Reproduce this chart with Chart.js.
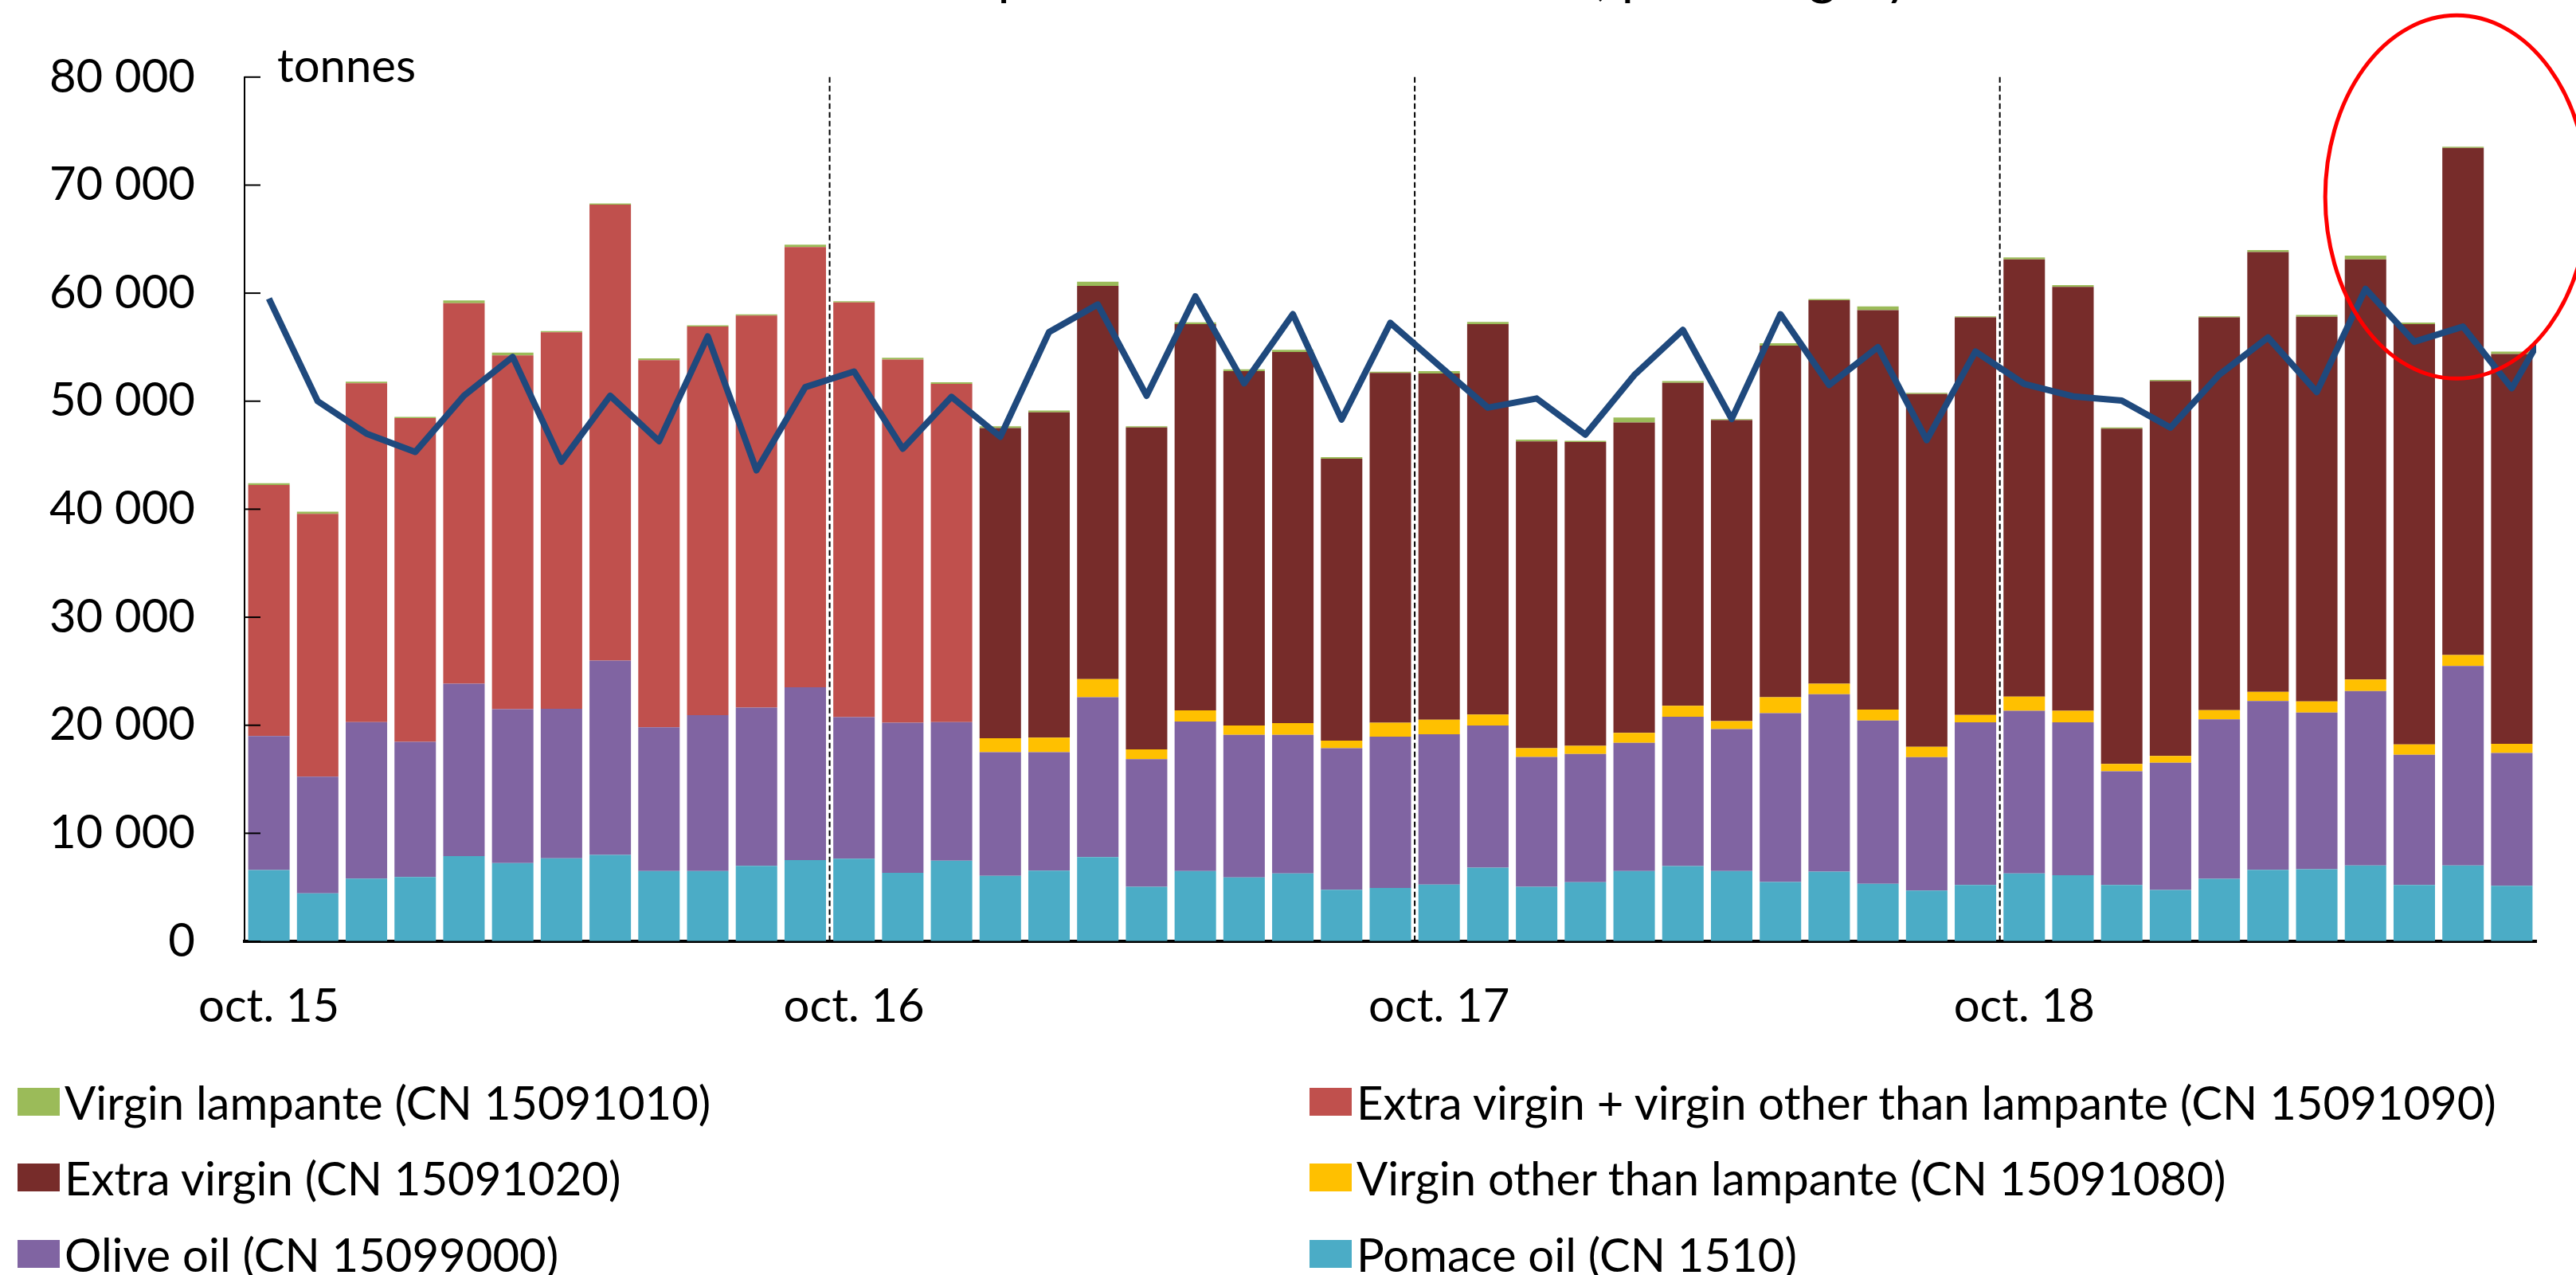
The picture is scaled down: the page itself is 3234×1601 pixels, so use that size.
<!DOCTYPE html>
<html>
<head>
<meta charset="utf-8">
<script src="https://cdn.jsdelivr.net/npm/chart.js@4.4.1/dist/chart.umd.min.js"></script>
<style>
  html, body { margin: 0; padding: 0; background: #fff; }
  body { width: 3234px; height: 1601px; position: relative; overflow: hidden; font-family: Lato, sans-serif; }
  #box { position: absolute; left: 0; top: 0; width: 3234px; height: 1320px; }
  .item { position: absolute; display: flex; align-items: center; height: 70px; font-size: 58px; color: #000; white-space: nowrap; }
  .key { display: inline-block; width: 53px; height: 35px; margin-right: 6px; }
</style>
</head>
<body>
<div id="box"><canvas id="oilChart"></canvas></div>
<div id="legend"></div>
<script>
// months (only october is labelled on the axis)
const categories = [
  'oct. 15', 'nov. 15', 'déc. 15', 'janv. 16', 'févr. 16', 'mars 16', 'avr. 16', 'mai 16', 'juin 16', 'juil. 16', 'août 16', 'sept. 16',
  'oct. 16', 'nov. 16', 'déc. 16', 'janv. 17', 'févr. 17', 'mars 17', 'avr. 17', 'mai 17', 'juin 17', 'juil. 17', 'août 17', 'sept. 17',
  'oct. 17', 'nov. 17', 'déc. 17', 'janv. 18', 'févr. 18', 'mars 18', 'avr. 18', 'mai 18', 'juin 18', 'juil. 18', 'août 18', 'sept. 18',
  'oct. 18', 'nov. 18', 'déc. 18', 'janv. 19', 'févr. 19', 'mars 19', 'avr. 19', 'mai 19', 'juin 19', 'juil. 19', 'août 19', 'sept. 19'
];
const lastShown = 46; // août 19, the line runs on past the edge

// tonnes per category
const pomace = [6600, 4450, 5800, 5960, 7890, 7250, 7680, 8000, 6500, 6500, 6980, 7520,
  7650, 6340, 7460, 6070, 6550, 7790, 5050, 6500, 5910, 6280, 4780, 4940,
  5260, 6820, 5050, 5480, 6500, 6960, 6510, 5490, 6450, 5320, 4700, 5210,
  6280, 6110, 5210, 4760, 5780, 6620, 6680, 7020, 5210, 7020, 5150];
const oliveOil = [12400, 10800, 14500, 12510, 15950, 14230, 13850, 17990, 13310, 14440, 14660, 16000,
  13100, 13900, 12840, 11430, 10950, 14810, 11810, 13850, 13200, 12830, 13100, 14010,
  13910, 13150, 12020, 11860, 11880, 13820, 13140, 15630, 16420, 15120, 12340, 15060,
  15070, 14160, 10530, 11770, 14770, 15630, 14500, 16140, 12060, 18460, 12290];
const virginOther = [null, null, null, null, null, null, null, null, null, null, null, null,
  null, null, null, 1290, 1350, 1670, 910, 1020, 860, 1080, 700, 1290,
  1340, 1020, 810, 750, 920, 1020, 730, 1470, 970, 1020, 970, 680,
  1300, 1080, 680, 630, 850, 850, 1020, 1070, 960, 1020, 850];
const extraVirgin = [null, null, null, null, null, null, null, null, null, null, null, null,
  null, null, null, 28730, 30120, 36400, 29800, 35760, 32810, 34360, 26090, 32380,
  32050, 36140, 28400, 28140, 28730, 29890, 27860, 32560, 35500, 36970, 32660, 36800,
  40480, 39230, 31030, 34700, 36350, 40710, 35610, 38900, 38900, 46940, 36070];
const extraPlusVirgin = [23250, 24320, 31350, 29960, 35220, 32750, 34840, 42200, 33990, 35970, 36290, 40750,
  38390, 33610, 31300];
const lampante = [150, 200, 160, 110, 270, 270, 110, 110, 160, 110, 110, 210,
  110, 160, 160, 160, 160, 380, 110, 160, 160, 210, 160, 100,
  220, 210, 160, 100, 460, 170, 110, 220, 110, 340, 110, 110,
  170, 170, 110, 110, 110, 170, 170, 340, 150, 110, 220];
const average = [59500, 50000, 47000, 45300, 50500, 54100, 44400, 50500, 46300, 56000, 43600, 51300,
  52750, 45600, 50400, 46700, 56400, 58950, 50500, 59700, 51650, 58050, 48300, 57250,
  53300, 49400, 50250, 46900, 52400, 56600, 48350, 58050, 51500, 55000, 46400, 54600,
  51600, 50450, 50050, 47550, 52450, 55900, 50850, 60400, 55500, 56900, 51200, 59000];

const yTicks = [0, 10000, 20000, 30000, 40000, 50000, 60000, 70000, 80000];

const FONT = 'Lato, sans-serif';
const fmt = v => String(v).replace(/\B(?=(\d{3})+(?!\d))/g, ' ');

const series = [
  { label: 'Pomace oil (CN 1510)', data: pomace, color: '#4BACC6' },
  { label: 'Olive oil (CN 15099000)', data: oliveOil, color: '#8064A2' },
  { label: 'Virgin other than lampante (CN 15091080)', data: virginOther, color: '#FFC000' },
  { label: 'Extra virgin (CN 15091020)', data: extraVirgin, color: '#772C2A' },
  { label: 'Extra virgin + virgin other than lampante (CN 15091090)', data: extraPlusVirgin, color: '#C0504D' },
  { label: 'Virgin lampante (CN 15091010)', data: lampante, color: '#9BBB59' }
];

const barSets = series.map(s => ({
  type: 'bar',
  label: s.label,
  data: s.data,
  xAxisID: 'x',
  yAxisID: 'y',
  backgroundColor: s.color,
  borderWidth: 0,
  grouped: false,
  categoryPercentage: 1,
  barPercentage: 0.85,
  order: 1
}));

// extra drawing: inward ticks, dashed year lines, unit, cut title, red ellipse
const extras = {
  id: 'extras',
  beforeDatasetsDraw(chart) {
    const { ctx, scales: { x, y } } = chart;
    ctx.save();
    ctx.strokeStyle = '#000';
    ctx.lineWidth = 2;
    ctx.setLineDash([7, 4]);
    categories.forEach((c, i) => {
      if (i > 0 && i <= lastShown && c.startsWith('oct')) {
        const px = (x.getPixelForValue(i - 1) + x.getPixelForValue(i)) / 2;
        ctx.beginPath();
        ctx.moveTo(px, y.getPixelForValue(80000));
        ctx.lineTo(px, y.getPixelForValue(0));
        ctx.stroke();
      }
    });
    ctx.restore();
  },
  afterDraw(chart) {
    const { ctx, scales: { x, y }, chartArea } = chart;
    ctx.save();
    ctx.strokeStyle = '#000';
    ctx.lineWidth = 2;
    yTicks.forEach(v => {
      const py = y.getPixelForValue(v);
      ctx.beginPath();
      ctx.moveTo(chartArea.left, py);
      ctx.lineTo(chartArea.left + 20, py);
      ctx.stroke();
    });
    ctx.fillStyle = '#000';
    ctx.font = '58px ' + FONT;
    ctx.textBaseline = 'alphabetic';
    ctx.fillText('tonnes', chartArea.left + 41, 103);
    // title sits above the picture, only its descenders show
    ctx.font = '66px ' + FONT;
    ctx.textAlign = 'right';
    ctx.fillText('Extra-EU imports of olive oil in tonnes, per category', 2400, -7);
    ctx.strokeStyle = '#FF0000';
    ctx.lineWidth = 5;
    ctx.beginPath();
    ctx.ellipse(x.getPixelForValue(45) - 8, y.getPixelForValue(68900), 165, 228, 0, 0, Math.PI * 2);
    ctx.stroke();
    ctx.restore();
  }
};

const ctx = document.getElementById('oilChart').getContext('2d');
const oilChart = new Chart(ctx, {
  data: {
    labels: categories,
    datasets: [
      ...barSets,
      {
        type: 'line',
        label: 'Total',
        data: average.map((v, i) => ({ x: i, y: v })),
        xAxisID: 'x2',
        yAxisID: 'y',
        stack: 'line',
        borderColor: '#1F497D',
        borderWidth: 8,
        borderJoinStyle: 'round',
        pointRadius: 0,
        tension: 0,
        fill: false,
        order: 0
      }
    ]
  },
  options: {
    responsive: true,
    maintainAspectRatio: false,
    animation: false,
    layout: { padding: { left: 0, top: 90, right: 50, bottom: 0 } },
    plugins: {
      legend: { display: false },
      tooltip: { enabled: false }
    },
    scales: {
      x: {
        type: 'category',
        stacked: true,
        offset: true,
        max: categories[lastShown],
        z: 1,
        grid: { display: true, drawOnChartArea: false, drawTicks: false },
        border: { display: true, color: '#000', width: 4 },
        ticks: {
          autoSkip: false,
          maxRotation: 0,
          padding: 47,
          color: '#000',
          font: { family: FONT, size: 58 },
          callback: (v) => categories[v].startsWith('oct') ? categories[v] : ''
        },
        afterFit: s => { s.height = 138; }
      },
      x2: {
        type: 'linear',
        display: false,
        min: -0.5,
        max: lastShown + 0.5
      },
      y: {
        stacked: true,
        min: 0,
        max: 80000,
        grid: { display: true, drawOnChartArea: false, drawTicks: false },
        border: { display: true, color: '#000', width: 2 },
        ticks: {
          stepSize: 10000,
          padding: 62,
          color: '#000',
          font: { family: FONT, size: 58 },
          callback: v => fmt(v)
        },
        afterFit: s => { s.width = 307; }
      }
    }
  },
  plugins: [extras]
});

// legend in two columns, same order as the original
const legendOrder = [5, 4, 3, 2, 1, 0];
const colX = [22, 1644];
const rowY = [1383, 1478, 1574];
const legend = document.getElementById('legend');
legendOrder.forEach((k, i) => {
  const it = document.createElement('div');
  it.className = 'item';
  it.style.left = colX[i % 2] + 'px';
  it.style.top = (rowY[Math.floor(i / 2)] - 35) + 'px';
  const key = document.createElement('span');
  key.className = 'key';
  key.style.background = series[k].color;
  it.appendChild(key);
  it.appendChild(document.createTextNode(series[k].label));
  legend.appendChild(it);
});
</script>
</body>
</html>
